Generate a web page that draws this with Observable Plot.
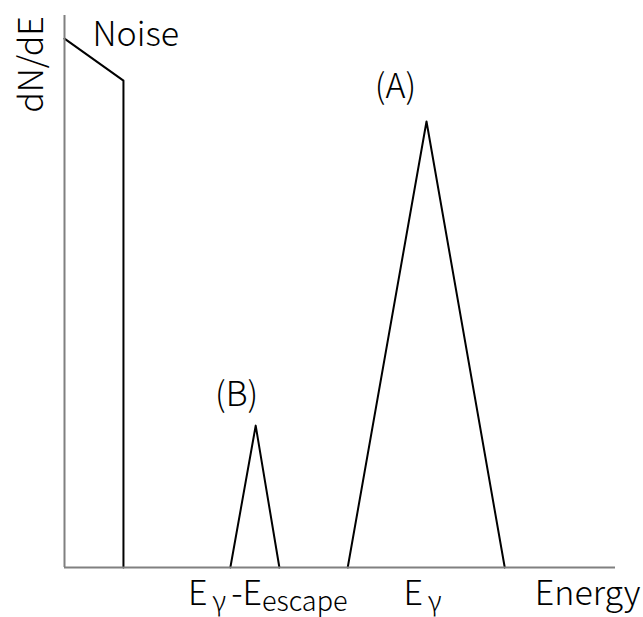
<!DOCTYPE html>
<html>
<head>
<meta charset="utf-8">
<script src="https://cdn.jsdelivr.net/npm/d3@7"></script>
<script src="https://cdn.jsdelivr.net/npm/@observablehq/plot@0.6"></script>
<style>
  html, body { margin: 0; padding: 0; background: #fff; }
  #chart svg { display: block; }
</style>
</head>
<body>
<div id="chart"></div>
<script>
// Schematic gamma-ray spectrum: dN/dE versus energy (arbitrary units, 0–100)

// Low-energy noise: falls off, then cut at the threshold
const noiseEnergy = [0, 10.7, 10.7];
const noiseCounts = [95.8, 88.2, 0];

// (B) escape peak
const peakBEnergy = [30.1, 34.7, 39.0];
const peakBCounts = [0, 25.7, 0];

// (A) full-energy peak
const peakAEnergy = [51.4, 65.7, 79.9];
const peakACounts = [0, 80.8, 0];

// Energy tick labels (subscripts written as _{...}), one under each peak
const tickEnergy = [34.7, 65.7];
const tickLabels = ["E_{γ}-E_{escape}", "E_{γ}"];

const yLabel = "dN/dE";
const xLabel = "Energy";
const noiseLabel = "Noise";
const peakLabels = ["(B)", "(A)"];

const toRows = (xs, ys) => xs.map((x, i) => ({energy: x, counts: ys[i]}));

const FONT = "'Noto Sans CJK JP', 'Noto Sans', sans-serif";
const SIZE = 34;
const WEIGHT = 300;
const AXIS = "#808080";
const INK = "#000";
const tickShift = [12, -4];

const text = (data, opts) =>
  Plot.text(data, {text: d => d, lineAnchor: "bottom", fontSize: SIZE, fontWeight: WEIGHT, fill: INK, ...opts});

const chart = Plot.plot({
  width: 643,
  height: 617,
  marginLeft: 64,
  marginRight: 28,
  marginTop: 15,
  marginBottom: 50,
  x: {domain: [0, 100], axis: null},
  y: {domain: [0, 100], axis: null},
  style: {fontFamily: FONT, background: "#fff", color: INK, overflow: "visible"},
  marks: [
    Plot.line(toRows(noiseEnergy, noiseCounts), {x: "energy", y: "counts", stroke: INK, strokeWidth: 2}),
    Plot.line(toRows(peakBEnergy, peakBCounts), {x: "energy", y: "counts", stroke: INK, strokeWidth: 2}),
    Plot.line(toRows(peakAEnergy, peakACounts), {x: "energy", y: "counts", stroke: INK, strokeWidth: 2}),
    // axes drawn as plain lines, no ticks
    Plot.ruleX([0], {y1: 0, y2: 100, stroke: AXIS, strokeWidth: 2}),
    Plot.ruleY([0], {x1: 0, x2: 100, stroke: AXIS, strokeWidth: 2}),
    // annotations near the noise and above each apex
    text([noiseLabel], {x: noiseEnergy[0], y: noiseCounts[0], textAnchor: "start", dx: 28, dy: 7}),
    text([peakLabels[0]], {x: peakBEnergy[1], y: peakBCounts[1], textAnchor: "middle", dx: -19, dy: -20}),
    text([peakLabels[1]], {x: peakAEnergy[1], y: peakACounts[1], textAnchor: "middle", dx: -31, dy: -23}),
    // energy tick labels under the peaks
    ...tickLabels.map((label, i) =>
      text([label], {x: tickEnergy[i], y: 0, textAnchor: "middle", dx: tickShift[i], dy: 37})),
    // axis titles
    text([xLabel], {x: 100, y: 0, textAnchor: "end", dx: 25, dy: 37}),
    text([yLabel], {frameAnchor: "top-left", rotate: -90, textAnchor: "middle", dx: -22, dy: 49})
  ]
});

// Turn "_{...}" runs into lowered tspans; a single-letter subscript gets a little air around it
const SUB_SHIFT = 6;
const SUB_SIZE = 27;
const SUB_GAP = 5;
d3.select(chart).selectAll("text").each(function () {
  const s = this.textContent;
  if (!s.includes("_{")) return;
  const parts = s.split(/(_\{[^}]*\})/).filter(p => p);
  const el = d3.select(this);
  el.text(null);
  let lowered = false;
  for (const p of parts) {
    const m = p.match(/^_\{(.*)\}$/);
    if (m) {
      el.append("tspan")
        .attr("dx", m[1].length === 1 ? SUB_GAP : null)
        .attr("dy", lowered ? null : SUB_SHIFT)
        .attr("font-size", SUB_SIZE)
        .text(m[1]);
      lowered = true;
    } else {
      el.append("tspan")
        .attr("dx", lowered ? SUB_GAP : null)
        .attr("dy", lowered ? -SUB_SHIFT : null)
        .text(p);
      lowered = false;
    }
  }
});

document.getElementById("chart").appendChild(chart);
</script>
</body>
</html>
